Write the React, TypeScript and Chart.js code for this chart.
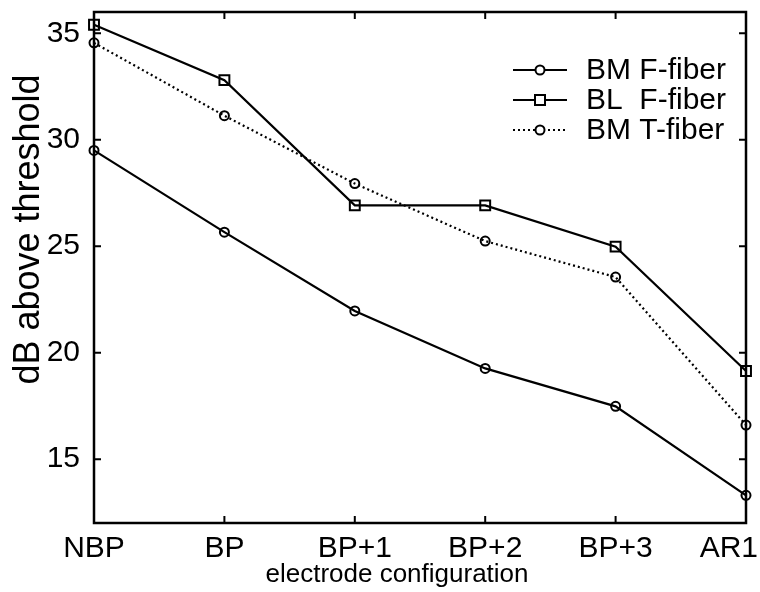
import React, { useEffect, useRef } from "react";
import { Chart, registerables } from "chart.js";

Chart.register(...registerables);

const categories = ["NBP", "BP", "BP+1", "BP+2", "BP+3", "AR1"];
const bmFFiber = [29.5, 25.66, 21.96, 19.26, 17.48, 13.3];
const blFFiber = [35.4, 32.8, 26.92, 26.92, 24.98, 19.14];
const bmTFiber = [34.55, 31.13, 27.94, 25.24, 23.55, 16.6];
const seriesLabels = ["BM F-fiber", "BL  F-fiber", "BM T-fiber"];
const xTitle = "electrode configuration";
const yTitle = "dB above threshold";
const yMin = 12;
const yMax = 36;
const yStep = 5;

const FONT = "'Liberation Sans', Arial, Helvetica, sans-serif";

const framePlugin = {
  id: "framePlugin",
  afterDatasetsDraw(chart: any) {
    const { ctx, chartArea: a, scales, width } = chart;
    ctx.save();
    ctx.strokeStyle = "#000";
    ctx.lineWidth = 2.5;
    ctx.strokeRect(a.left, a.top, a.right - a.left, a.bottom - a.top);
    ctx.lineWidth = 2;
    const L = 7;
    ctx.beginPath();
    scales.x.ticks.forEach((_t: any, i: number) => {
      const x = scales.x.getPixelForTick(i);
      ctx.moveTo(x, a.bottom);
      ctx.lineTo(x, a.bottom - L);
      ctx.moveTo(x, a.top);
      ctx.lineTo(x, a.top + L);
    });
    scales.y.ticks.forEach((_t: any, i: number) => {
      const y = scales.y.getPixelForTick(i);
      ctx.moveTo(a.left, y);
      ctx.lineTo(a.left + L, y);
      ctx.moveTo(a.right, y);
      ctx.lineTo(a.right - L, y);
    });
    ctx.stroke();

    // x tick labels, kept inside the canvas
    ctx.fillStyle = "#000";
    ctx.font = `30px ${FONT}`;
    ctx.textAlign = "center";
    ctx.textBaseline = "alphabetic";
    scales.x.ticks.forEach((_t: any, i: number) => {
      const label = String(scales.x.getLabelForValue(i));
      const w = ctx.measureText(label).width;
      let x = scales.x.getPixelForTick(i);
      x = Math.min(Math.max(x, w / 2 + 2), width - 2 - w / 2);
      ctx.fillText(label, x, a.bottom + 34);
    });

    // axis titles
    ctx.font = `26px ${FONT}`;
    ctx.fillText(xTitle, (a.left + a.right) / 2 - 23, a.bottom + 59);
    ctx.save();
    ctx.translate(39, (a.top + a.bottom) / 2 - 38);
    ctx.rotate(-Math.PI / 2);
    ctx.font = `36px ${FONT}`;
    ctx.fillText(yTitle, 0, 0);
    ctx.restore();

    // legend inside the plot area, top right
    chart.data.datasets.forEach((ds: any, i: number) => {
      const y = a.top + 58 + i * 30;
      const x0 = a.right - 233;
      const x1 = a.right - 179;
      const xm = (x0 + x1) / 2;
      ctx.strokeStyle = "#000";
      ctx.lineWidth = ds.borderWidth;
      ctx.setLineDash(ds.borderDash || []);
      ctx.beginPath();
      ctx.moveTo(x0, y);
      ctx.lineTo(x1, y);
      ctx.stroke();
      ctx.setLineDash([]);
      ctx.lineWidth = 2;
      ctx.beginPath();
      if (ds.pointStyle === "rect") {
        ctx.rect(xm - 5, y - 5, 10, 10);
      } else {
        ctx.arc(xm, y, 4.5, 0, Math.PI * 2);
      }
      ctx.fillStyle = "#fff";
      ctx.fill();
      ctx.stroke();
      ctx.fillStyle = "#000";
      ctx.font = `30px ${FONT}`;
      ctx.textBaseline = "middle";
      ctx.textAlign = "left";
      ctx.fillText(ds.label, a.right - 160, y + 1);
    });
    ctx.restore();
  },
};

export default function App() {
  const ref = useRef<HTMLCanvasElement | null>(null);
  useEffect(() => {
    if (!ref.current) return;
    const common = {
      borderColor: "#000",
      borderWidth: 2.2,
      pointBorderColor: "#000",
      pointBackgroundColor: "rgba(0,0,0,0)",
      pointBorderWidth: 2,
      tension: 0,
      clip: false as any,
      fill: false,
    };
    const chart = new Chart(ref.current, {
      type: "line",
      data: {
        labels: categories,
        datasets: [
          { ...common, label: seriesLabels[0], data: bmFFiber, pointStyle: "circle", pointRadius: 4.5 },
          { ...common, label: seriesLabels[1], data: blFFiber, pointStyle: "rect", pointRadius: 7 },
          { ...common, label: seriesLabels[2], data: bmTFiber, pointStyle: "circle", pointRadius: 4.5, borderDash: [2, 3] },
        ],
      },
      options: {
        animation: false,
        responsive: false,
        devicePixelRatio: 1,
        layout: { padding: { top: 12, right: 14, left: 0, bottom: 0 } },
        plugins: { legend: { display: false }, tooltip: { enabled: false } },
        scales: {
          x: {
            type: "category",
            offset: false,
            grid: { display: false, drawTicks: false },
            border: { display: false },
            ticks: { display: false, autoSkip: false, maxRotation: 0 },
            title: { display: false },
            afterFit(s: any) {
              s.height = 69;
              s.paddingLeft = 0;
              s.paddingRight = 0;
            },
          },
          y: {
            min: yMin,
            max: yMax,
            grid: { display: false, drawTicks: false },
            border: { display: false },
            ticks: {
              stepSize: yStep,
              includeBounds: false,
              color: "#000",
              font: { family: FONT, size: 30 },
              padding: 14,
            },
            title: { display: false },
            afterFit(s: any) {
              s.width = 94;
              s.paddingTop = 0;
              s.paddingBottom = 0;
            },
          },
        },
      },
      plugins: [framePlugin],
    });
    return () => chart.destroy();
  }, []);
  return (
    <canvas
      ref={ref}
      width={760}
      height={592}
      style={{ position: "absolute", left: 0, top: 0, width: 760, height: 592 }}
    />
  );
}
